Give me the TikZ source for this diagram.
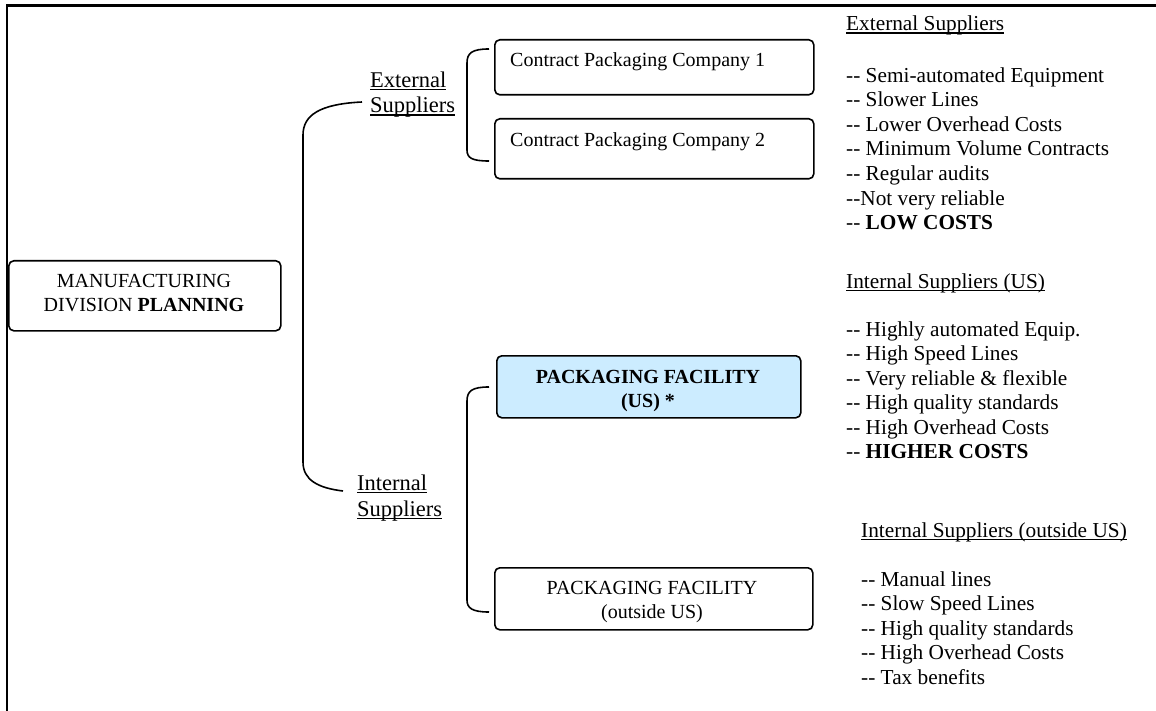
\documentclass[tikz,border=0pt]{standalone}
\usepackage{fontspec}
\setmainfont{Liberation Serif}
% underline that sits just under the baseline, across the descenders
\newcommand\undr[1]{\setbox0\hbox{#1}\rlap{\rule[-2.8pt]{\wd0}{1.3pt}}\box0}
% two plain hyphens, kept apart from the en-dash ligature
\newcommand\dd{-{}-}
\definecolor{facblue}{RGB}{204,236,255}
\tikzset{
  box/.style={draw, line width=1.6pt, rounded corners=5pt, inner sep=0pt, anchor=north west},
  txt/.style={font=\fontsize{20}{24.5}\selectfont, inner sep=0pt, anchor=base west, align=left},
  note/.style={txt, font=\fontsize{21.3}{24.5}\selectfont},
  lbl/.style={txt, font=\fontsize{22.5}{25.5}\selectfont},
  ctxt/.style={font=\fontsize{20}{24}\selectfont, inner sep=0pt, anchor=base, align=center},
  link/.style={line width=1.6pt},
}
\begin{document}
\begin{tikzpicture}[x=1pt, y=-1pt]
\useasboundingbox (0,0) rectangle (1156,711);
% outer frame (only top and left edges fall inside the page)
\draw[line width=2.8pt] (7,730) -- (7,5.5) -- (1180,5.5);

% boxes
\node[box, minimum width=272, minimum height=70] (mfg) at (8,260) {};
\node[box, minimum width=319, minimum height=55] (cp1) at (494,39) {};
\node[box, minimum width=319, minimum height=60] (cp2) at (494,118) {};
\node[box, fill=facblue, minimum width=304, minimum height=62] (us) at (496,355) {};
\node[box, minimum width=318, minimum height=62] (out) at (494,567) {};

% box texts (a multi-line node sits on the baseline of its last line)
\node[ctxt] (mfgt) at (144,311) {MANUFACTURING\\DIVISION \textbf{PLANNING}};
\node[txt] (cp1t) at (510,67) {Contract Packaging Company 1};
\node[txt] (cp2t) at (510,147) {Contract Packaging Company 2};
\node[ctxt] (ust) at (648,407.5) {\textbf{PACKAGING FACILITY}\\\textbf{(US) *}};
\node[ctxt] (outt) at (652,618) {PACKAGING FACILITY\\(outside US)};

% branch labels
\node[lbl] (extlab) at (370,113) {\undr{External}\\\undr{Suppliers}};
\node[lbl] (intlab) at (357,516) {\undr{Internal}\\\undr{Suppliers}};

% brackets
\coordinate (b1) at (362,102);
\coordinate (b2) at (343,491);
\draw[link] (b1) .. controls (320,104) and (303,115) .. (303,135)
  -- (303,462) .. controls (303,480) and (318,488) .. (b2);
\coordinate (s1) at (489,49);
\coordinate (s2) at (489,161);
\draw[link] (s1) .. controls (472,49) and (467,53) .. (467,63)
  -- (467,150) .. controls (467,158) and (472,161) .. (s2);
\coordinate (s3) at (489,387);
\coordinate (s4) at (489,612);
\draw[link] (s3) .. controls (472,387) and (467,391) .. (467,401)
  -- (467,600) .. controls (467,608) and (472,612) .. (s4);

% notes
\node[note] (exth) at (846,31) {\undr{External Suppliers}};
\node[note] (extl) at (846,229.5) {\dd{} Semi-automated Equipment\\\dd{} Slower Lines\\\dd{} Lower Overhead Costs\\\dd{} Minimum Volume Contracts\\\dd{} Regular audits\\\dd Not very reliable\\\dd{} \textbf{LOW COSTS}};
\node[note] (ush) at (846,288) {\undr{Internal Suppliers (US)}};
\node[note] (usl) at (846,458.5) {\dd{} Highly automated Equip.\\\dd{} High Speed Lines\\\dd{} Very reliable \& flexible\\\dd{} High quality standards\\\dd{} High Overhead Costs\\\dd{} \textbf{HIGHER COSTS}};
\node[note] (outh) at (861,537) {\undr{Internal Suppliers (outside US)}};
\node[note] (outl) at (861,684) {\dd{} Manual lines\\\dd{} Slow Speed Lines\\\dd{} High quality standards\\\dd{} High Overhead Costs\\\dd{} Tax benefits};
\end{tikzpicture}
\end{document}
